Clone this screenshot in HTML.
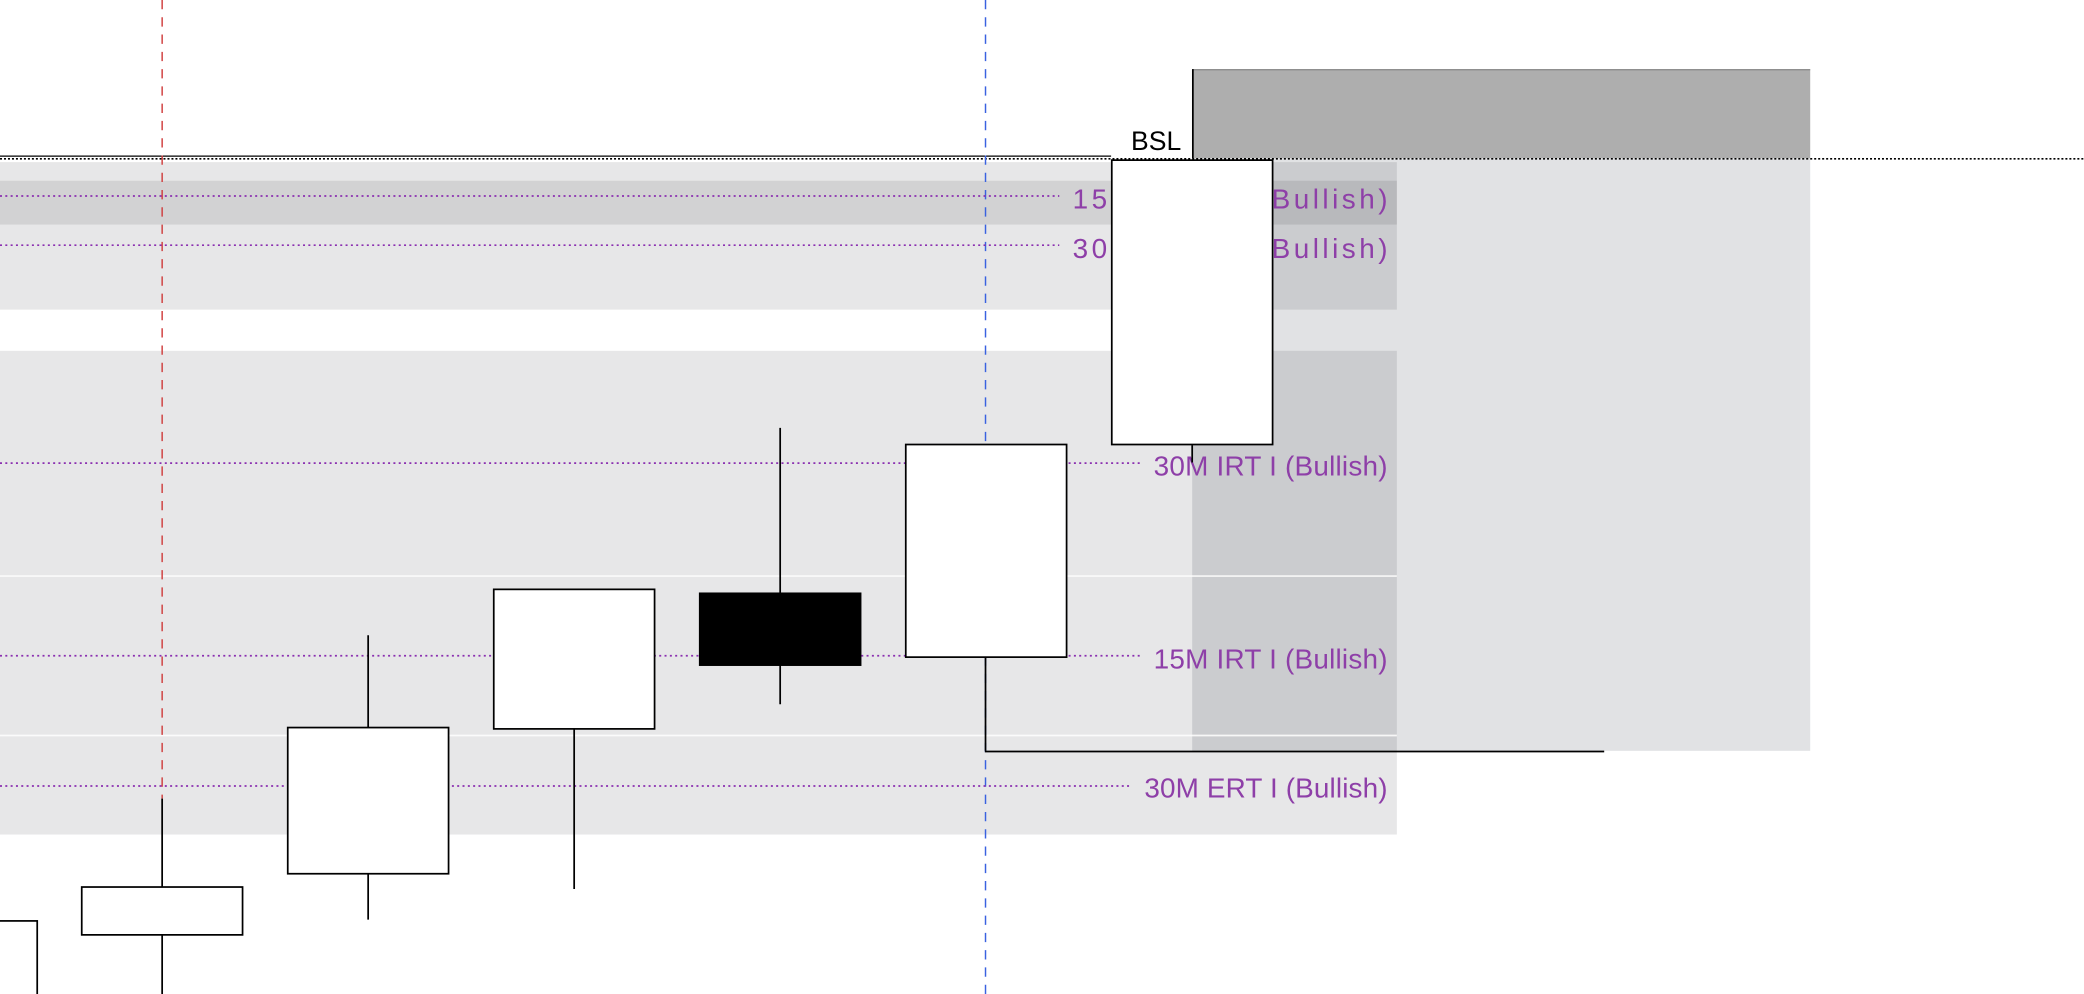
<!DOCTYPE html>
<html><head><meta charset="utf-8"><style>html,body{margin:0;padding:0;background:#fff;overflow:hidden}svg{display:block}</style></head>
<body>
<svg width="2084" height="994" viewBox="0 0 1568 748" preserveAspectRatio="none" xmlns="http://www.w3.org/2000/svg">
<rect width="1568" height="748" fill="#fff"/>
<rect x="897" y="119" width="465" height="446" fill="#e1e2e4"/>
<rect x="0" y="122" width="1051" height="111" fill="rgba(0,0,10,0.095)"/>
<rect x="0" y="136" width="1051" height="33" fill="rgba(0,0,0,0.09)"/>
<rect x="0" y="264" width="1051" height="364" fill="rgba(0,0,10,0.095)"/>
<line x1="0" y1="433.5" x2="1051" y2="433.5" stroke="#fff" stroke-width="1.3" opacity="0.85"/>
<line x1="0" y1="553.5" x2="1051" y2="553.5" stroke="#fff" stroke-width="1.3" opacity="0.85"/>
<rect x="897" y="52" width="465" height="67" fill="#aeaeae"/>
<line x1="897" y1="52.5" x2="1362" y2="52.5" stroke="#888" stroke-width="1"/>
<line x1="897.5" y1="52" x2="897.5" y2="119" stroke="#000" stroke-width="1.3"/>
<line x1="0" y1="117.5" x2="836" y2="117.5" stroke="#000" stroke-width="1"/>
<line x1="0" y1="119.5" x2="1568" y2="119.5" stroke="#000" stroke-width="1.2" stroke-dasharray="1.5,1.5"/>
<line x1="122" y1="0" x2="122" y2="601" stroke="#d04040" stroke-width="1.1" stroke-dasharray="7,6"/>
<line x1="741.5" y1="0" x2="741.5" y2="748" stroke="#3a62e0" stroke-width="1.1" stroke-dasharray="7,6"/>
<g stroke="#8a2fb0" stroke-width="1.3" stroke-dasharray="1.5,2.5">
<line x1="0" y1="147.5" x2="797" y2="147.5"/>
<line x1="0" y1="184.5" x2="797" y2="184.5"/>
<line x1="0" y1="348.5" x2="858" y2="348.5"/>
<line x1="0" y1="493.5" x2="858" y2="493.5"/>
<line x1="0" y1="591.5" x2="852" y2="591.5"/>
</g>
<g font-family="Liberation Sans, sans-serif" font-size="21" fill="#8e3fa8" text-anchor="end">
<text x="1044" y="157" textLength="237">15M ERT II (Bullish)</text>
<text x="1044" y="194" textLength="237">30M ERT II (Bullish)</text>
<text x="1044" y="358" textLength="176">30M IRT I (Bullish)</text>
<text x="1044" y="503" textLength="176">15M IRT I (Bullish)</text>
<text x="1044" y="600" textLength="183">30M ERT I (Bullish)</text>
</g>
<g stroke="#000" stroke-width="1.3">
<line x1="122" y1="601" x2="122" y2="748"/>
<line x1="277" y1="478" x2="277" y2="692"/>
<line x1="432" y1="549" x2="432" y2="669"/>
<line x1="587" y1="322" x2="587" y2="530"/>
<line x1="741.5" y1="495" x2="741.5" y2="565"/>
<line x1="741" y1="565.5" x2="1207" y2="565.5"/>
<line x1="897" y1="335" x2="897" y2="348"/>
<rect x="-5" y="693" width="33" height="60" fill="#fff"/>
<rect x="61.5" y="667.5" width="121" height="36" fill="#fff"/>
<rect x="216.5" y="547.5" width="121" height="110" fill="#fff"/>
<rect x="371.5" y="443.5" width="121" height="105" fill="#fff"/>
<rect x="526.5" y="446.5" width="121" height="54" fill="#000"/>
<rect x="681.5" y="334.5" width="121" height="160" fill="#fff"/>
<rect x="836.5" y="120.5" width="121" height="214" fill="#fff"/>
</g>
<text x="851" y="113" font-family="Liberation Sans, sans-serif" font-size="20" fill="#000">BSL</text>
</svg>
</body></html>
